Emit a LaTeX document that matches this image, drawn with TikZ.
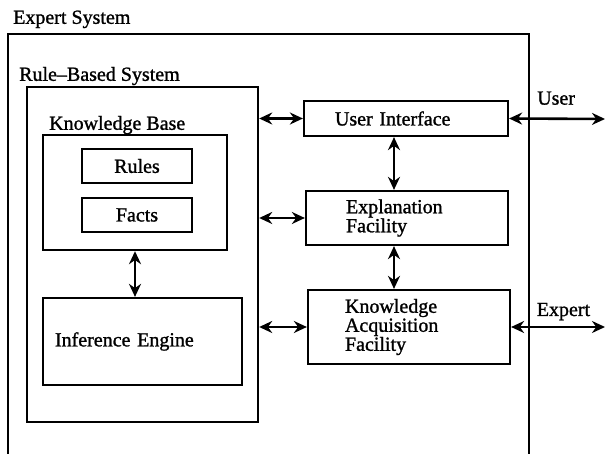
\documentclass[tikz,border=0pt]{standalone}
\usepackage{fontspec}
\setmainfont{Liberation Serif}[FakeBold=1.2]
\usetikzlibrary{positioning, arrows.meta}

\begin{document}
\begin{tikzpicture}[
    x=0.5pt, y=-0.5pt,
    >={Stealth[length=6.5pt, width=6pt]},
    font=\fontsize{10}{9.5}\selectfont,
    frame/.style={rectangle, draw, line width=1.2pt, inner sep=0pt},
    block/.style={rectangle, draw, line width=1.1pt, align=center},
    textblock/.style={rectangle, draw, line width=1.1pt, align=left, inner xsep=#1, inner ysep=2pt},
    link/.style={<->, line width=1.3pt},
    title/.style={anchor=base west, inner sep=0pt},
]

\useasboundingbox (0,0) rectangle (606,454);
\clip (0,0) rectangle (606,454);

% nested system frames
\node[frame, minimum width=260.5pt, minimum height=213pt,
      label={[title, xshift=3pt, yshift=4.5pt]north west:Expert System}] (es) at (268.5,247) {};
\node[frame, minimum width=115.5pt, minimum height=167.5pt,
      label={[title, xshift=-3.5pt, yshift=2.5pt]north west:Rule--Based System}] (rbs) at (142.5,254.5) {};
\node[frame, minimum width=92pt, minimum height=57.5pt,
      label={[title, xshift=3.5pt, yshift=2pt]north west:Knowledge Base}] (kb) at (135,192.5) {};

\node[block, minimum width=55pt, minimum height=17pt] (rules) at (137,166) {Rules};
\node[block, minimum width=55pt, minimum height=17pt] (facts) at (137,215) {Facts};

\node[textblock=6pt, text width=87.5pt, minimum height=43.5pt] (ie) at (142.5,341.5) {Inference Engine};

% facilities on the right
\node[textblock=15.5pt, text width=71pt, minimum height=17.5pt] (ui) at (406,118.5) {User Interface};
\node[textblock=20pt, text width=61pt, minimum height=27pt] (ef) at (407,218) {Explanation\\Facility};
\node[textblock=18.5pt, text width=64pt, minimum height=37pt] (kaf) at (409,327) {Knowledge\\Acquisition\\Facility};

\coordinate (user) at (605,119);
\coordinate (expert) at (605,327);

\draw[link] (kb.south) -- (kb.south |- ie.north);

\draw[link] (rbs.east |- ui.west) -- (ui.west);
\draw[link] (rbs.east |- ef.west) -- (ef.west);
\draw[link] (rbs.east |- kaf.west) -- (kaf.west);

\draw[link] ([xshift=-6pt]ui.south) -- ([xshift=-6pt]ui.south |- ef.north);
\draw[link] ([xshift=-6.5pt]ef.south) -- ([xshift=-6.5pt]ef.south |- kaf.north);

\draw[link] (ui.east) -- (user) node[pos=0.28, title, yshift=7pt] {User};
\draw[link] (kaf.east) -- (expert) node[pos=0.26, title, yshift=5.5pt] {Expert};

\end{tikzpicture}
\end{document}
